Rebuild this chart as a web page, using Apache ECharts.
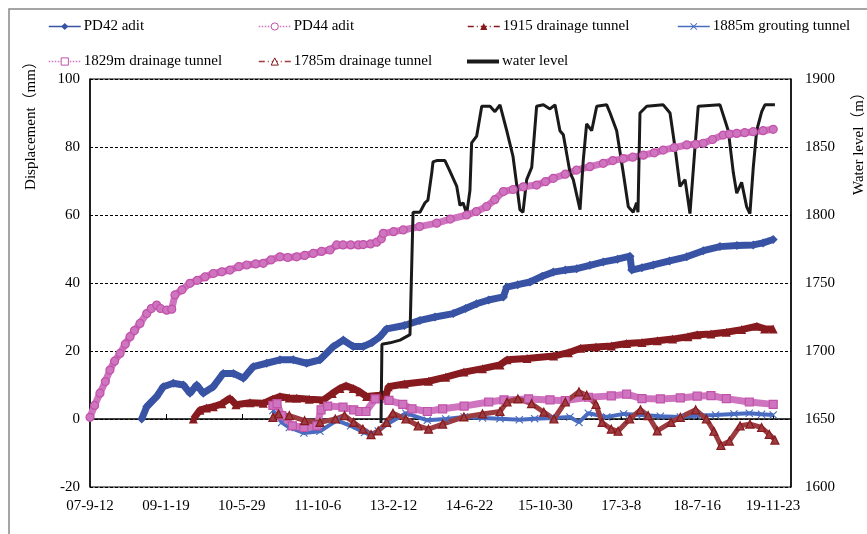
<!DOCTYPE html>
<html><head><meta charset="utf-8">
<script src="https://cdn.jsdelivr.net/npm/echarts@6/dist/echarts.min.js"></script>
<style>html,body{margin:0;padding:0;background:#fff}#c{width:867px;height:534px}</style>
</head><body><div id="c"></div>
<script>
// x values are days since 2007-09-12
const startDate = Date.UTC(2007, 8, 12);
const tickDays = [0, 495, 990, 1485, 1980, 2475, 2970, 3465, 3960, 4455];

const pd42Days = [337,370,400,435,478,543,609,652,696,739,804,869,935,1000,1065,1152,1239,1326,1413,1500,1587,1652,1717,1782,1840,1891,1935,2050,2152,2250,2369,2450,2522,2600,2696,2718,2790,2870,2950,3022,3100,3174,3260,3348,3440,3522,3533,3600,3674,3780,3892,4000,4109,4220,4326,4390,4456];
const pd42Vals = [0,3.6,5,6.6,9.5,10.5,10,7.6,10,7.6,9.5,13.4,13.4,12,15.4,16.4,17.4,17.4,16.4,17.4,21.3,23.2,21.3,21.3,22.5,24.2,26.5,27.5,29,30,31,32.5,33.9,35,35.9,38.8,39.5,40.3,42,43.2,43.8,44.2,45.2,46.2,47,47.9,43.8,44.5,45.3,46.5,47.7,49.5,50.7,51,51.2,51.8,52.8];

const pd44Days = [0,30,65,100,130,160,196,230,261,290,326,370,400,435,460,500,533,554,600,652,700,750,804,860,913,970,1022,1080,1130,1180,1239,1290,1348,1400,1456,1510,1565,1609,1650,1700,1750,1782,1830,1870,1900,1913,1980,2043,2150,2261,2350,2457,2520,2587,2640,2696,2760,2826,2913,2970,3022,3100,3174,3260,3348,3410,3478,3540,3609,3680,3739,3810,3892,3950,4000,4060,4130,4170,4218,4270,4326,4390,4456];
const pd44Vals = [0.5,4,7.6,11,14.4,17,19.3,22,24.2,26,28.1,31,32.5,33.5,32.5,32,32.3,36.5,38,39.9,40.8,41.8,42.8,43.3,43.8,44.8,45.3,45.6,45.8,46.8,47.7,47.5,47.7,48.1,48.7,49.3,49.7,51.2,51.2,51.2,51.2,51.3,51.5,52,53,54.6,55.1,55.6,56.6,57.6,58.8,60,61,62.5,64.5,66.9,67.5,68.3,68.8,69.8,70.8,72,73.2,74.2,75.2,76,76.6,77,77.6,78.3,79.1,79.8,80.6,80.8,81.1,82.2,83.5,83.8,84,84.2,84.5,84.8,85.2];

const t1915Days = [674,717,760,804,860,913,952,1044,1130,1190,1239,1300,1348,1430,1522,1580,1630,1670,1717,1760,1804,1891,1935,1945,2050,2208,2320,2439,2560,2674,2720,2850,3024,3120,3200,3300,3400,3500,3600,3700,3800,3900,3960,4050,4150,4250,4350,4400,4456];
const t1915Vals = [0,2.6,3.2,3.6,4.5,6.1,4.2,4.8,4.6,5.8,6.6,6.2,6.1,5.8,5.6,7.5,9,9.8,9,8,6.6,7,7.5,9.5,10.3,11.1,12.3,13.8,14.8,15.9,17.4,17.8,18.5,19.5,20.8,21.2,21.5,22.2,22.5,23,23.5,24.2,24.8,25,25.5,26.3,27.3,26.5,26.5];

const t1885Days = [1193,1250,1300,1395,1500,1610,1700,1790,1833,1880,1940,2060,2200,2320,2440,2560,2674,2800,2900,3020,3130,3189,3250,3370,3480,3600,3720,3850,3960,4080,4200,4300,4380,4456];
const t1885Vals = [2.5,-1,-2.5,-4.1,-3.6,-0.4,-2,-4,-4.6,-3.5,-1.5,1.7,-0.4,0,0.6,0.3,0.1,-0.2,0.1,0.3,0.6,-1,1.7,0.6,1.5,1.2,0.8,0.6,1,1.2,1.5,1.7,1.4,1.2];

const t1829Days = [1193,1220,1250,1320,1395,1480,1507,1550,1650,1720,1760,1800,1860,1950,2040,2100,2200,2300,2440,2600,2700,2860,3000,3100,3250,3400,3500,3600,3720,3850,3960,4050,4150,4300,4456];
const t1829Vals = [4,4.5,1,-2,-2.5,-2,2.7,3.8,3.5,2.7,2.2,2.2,5.9,5.5,4.3,3,2.2,3,3.8,5,5.6,5.9,5.6,5.4,6.4,6.8,7.3,6,5.9,6.2,6.7,6.9,6,5,4.3];

const t1785Days = [1193,1230,1300,1400,1500,1600,1660,1720,1780,1833,1880,1935,1976,2060,2140,2208,2300,2439,2560,2674,2720,2791,2880,2960,3026,3100,3189,3240,3300,3340,3400,3444,3520,3590,3640,3700,3790,3850,3950,4020,4069,4115,4170,4240,4304,4380,4430,4467];
const t1785Vals = [0.5,1.5,1,-0.5,-1,0,1,-1,-3,-4.6,-3.5,-1,1.7,0,-2,-3,-1.5,0.6,1.5,2.2,5,5.9,4.5,2,0,5,8,7,4.3,-1,-3,-3.6,0,2.7,1,-3.5,-1,0.5,2.7,0,-3.6,-7.8,-6.5,-2,-1.5,-2.5,-4.5,-6.2];

const wlDays = [1898,1904,1957,2022,2087,2100,2107,2152,2185,2204,2229,2237,2261,2315,2348,2392,2413,2433,2457,2478,2489,2522,2555,2609,2641,2674,2718,2759,2804,2824,2848,2881,2913,2957,3000,3033,3065,3087,3131,3152,3196,3217,3239,3272,3305,3370,3392,3435,3478,3511,3543,3565,3574,3587,3631,3739,3783,3815,3848,3881,3913,3946,3967,4109,4163,4196,4218,4250,4283,4304,4326,4348,4381,4402,4467];
const wlVals = [1647,1705,1706,1708,1712,1712,1802,1802,1809,1811,1831,1839,1840,1840,1832,1821,1807,1809,1801,1818,1853,1858,1880,1880,1876,1881,1862,1843,1804,1802,1826,1835,1880,1881,1878,1881,1862,1859,1831,1826,1804,1840,1867,1862,1880,1881,1875,1862,1831,1806,1802,1809,1802,1875,1880,1881,1875,1850,1821,1826,1801,1850,1880,1881,1862,1831,1816,1824,1806,1801,1835,1862,1876,1881,1881];

const FONT = '"Liberation Serif","Times New Roman","Noto Sans CJK SC",serif';
const pair = (d, v) => d.map((x, i) => [x, v[i]]);
function dayLabel(d) {
  const t = new Date(startDate + d * 86400000);
  const yy = String(t.getUTCFullYear() % 100).padStart(2, '0');
  return yy + '-' + (t.getUTCMonth() + 1) + '-' + t.getUTCDate();
}
const xSym = 'path://M0,1L1,0L5,4L9,0L10,1L6,5L10,9L9,10L5,6L1,10L0,9L4,5Z';
const C_BLUE = '#3953a4', C_PINK = '#c152aa', C_PINK_L = '#cf74be', C_RED = '#861a1e', C_RED_L = '#9c3c40', C_BLUE2 = '#4a6cc0';

function lg(name, left, top, type, extra) {
  const item = Object.assign({ name: name, lineStyle: { width: 1.5, type: type } }, extra || {});
  return {
    data: [item],
    left: left, top: top, padding: 0, itemWidth: 32, itemHeight: 9, itemGap: 0,
    textStyle: { fontFamily: FONT, fontSize: 15, color: '#000', padding: [0, 0, 0, -2] }
  };
}
const hollow = c => ({ itemStyle: { color: '#fff', borderColor: c, borderWidth: 1 } });

const chart = echarts.init(document.getElementById('c'), null, { renderer: 'canvas' });
chart.setOption({
  backgroundColor: '#fff',
  animation: false,
  grid: { left: 90, right: 76, top: 79, bottom: 47, show: true, borderColor: '#000', borderWidth: 1 },
  legend: [
    lg('PD42 adit', 48, 19, 'solid'),
    lg('PD44 adit', 258, 19, 'dotted', hollow(C_PINK)),
    lg('1915 drainage tunnel', 467, 19, [6, 3, 1, 3]),
    lg('1885m grouting tunnel', 677, 19, 'solid'),
    lg('1829m drainage tunnel', 48, 54, 'dotted', hollow(C_PINK)),
    lg('1785m drainage tunnel', 258, 54, [6, 3, 1, 3], hollow(C_RED)),
    Object.assign(lg('water level', 467, 54, 'solid', { icon: 'rect', itemStyle: { color: '#1a1a1a' } }), { itemHeight: 4 })
  ],
  graphic: [
    { type: 'rect', shape: { x: 9, y: 9, width: 1000, height: 1000 }, style: { fill: 'none', stroke: '#888', lineWidth: 1.5 }, silent: true },
    { type: 'text', x: 31, y: 122, rotation: Math.PI / 2, style: { text: 'Displacement（mm）', font: '15px ' + FONT, fill: '#000', align: 'center', verticalAlign: 'middle' } },
    { type: 'text', x: 859, y: 140, rotation: Math.PI / 2, style: { text: 'Water level（m）', font: '15px ' + FONT, fill: '#000', align: 'center', verticalAlign: 'middle' } }
  ],
  xAxis: {
    type: 'value', min: 0, max: 4572, interval: 495,
    axisLine: { lineStyle: { color: '#000', width: 1.5 } },
    axisTick: { inside: true, length: 5, lineStyle: { color: '#000' } },
    axisLabel: { color: '#000', fontFamily: FONT, fontSize: 15, margin: 12, showMaxLabel: false,
      formatter: v => (tickDays.indexOf(v) >= 0 ? dayLabel(v) : '') },
    splitLine: { show: false }
  },
  yAxis: [
    { type: 'value', min: -20, max: 100, interval: 20,
      axisLine: { show: true, lineStyle: { color: '#000', width: 1.5 } }, axisTick: { show: false },
      axisLabel: { color: '#000', fontFamily: FONT, fontSize: 15, margin: 10 },
      splitLine: { show: true, lineStyle: { color: '#000', width: 1, type: [3, 2] } } },
    { type: 'value', min: 1600, max: 1900, interval: 50, position: 'right',
      axisLine: { show: true, lineStyle: { color: '#000', width: 1.5 } }, axisTick: { show: false },
      axisLabel: { color: '#000', fontFamily: FONT, fontSize: 15, margin: 14, formatter: v => String(v) },
      splitLine: { show: false } }
  ],
  series: [
    { name: 'PD42 adit', type: 'line', data: pair(pd42Days, pd42Vals), color: C_BLUE,
      symbol: 'diamond', symbolSize: 9, lineStyle: { width: 7 }, itemStyle: { color: C_BLUE } },
    { name: 'PD44 adit', type: 'line', data: pair(pd44Days, pd44Vals), color: C_PINK,
      symbol: 'circle', symbolSize: 8, lineStyle: { width: 7 }, itemStyle: { color: C_PINK_L, borderColor: C_PINK, borderWidth: 1.2 } },
    { name: '1915 drainage tunnel', type: 'line', data: pair(t1915Days, t1915Vals), color: C_RED,
      symbol: 'triangle', symbolSize: 9, lineStyle: { width: 7 }, itemStyle: { color: C_RED } },
    { name: '1885m grouting tunnel', type: 'line', data: pair(t1885Days, t1885Vals), color: C_BLUE2,
      symbol: xSym, symbolSize: 8, lineStyle: { width: 4 }, itemStyle: { color: C_BLUE2 } },
    { name: '1829m drainage tunnel', type: 'line', data: pair(t1829Days, t1829Vals), color: C_PINK,
      symbol: 'rect', symbolSize: 8, lineStyle: { width: 7 }, itemStyle: { color: C_PINK_L, borderColor: C_PINK, borderWidth: 1.2 } },
    { name: '1785m drainage tunnel', type: 'line', data: pair(t1785Days, t1785Vals), color: C_RED,
      symbol: 'triangle', symbolSize: 8, lineStyle: { width: 5 }, itemStyle: { color: C_RED_L, borderColor: C_RED, borderWidth: 1.2 } },
    { name: 'water level', type: 'line', yAxisIndex: 1, data: pair(wlDays, wlVals), color: '#1a1a1a',
      symbol: 'none', lineStyle: { width: 3, color: '#1a1a1a' } }
  ]
});
</script></body></html>
